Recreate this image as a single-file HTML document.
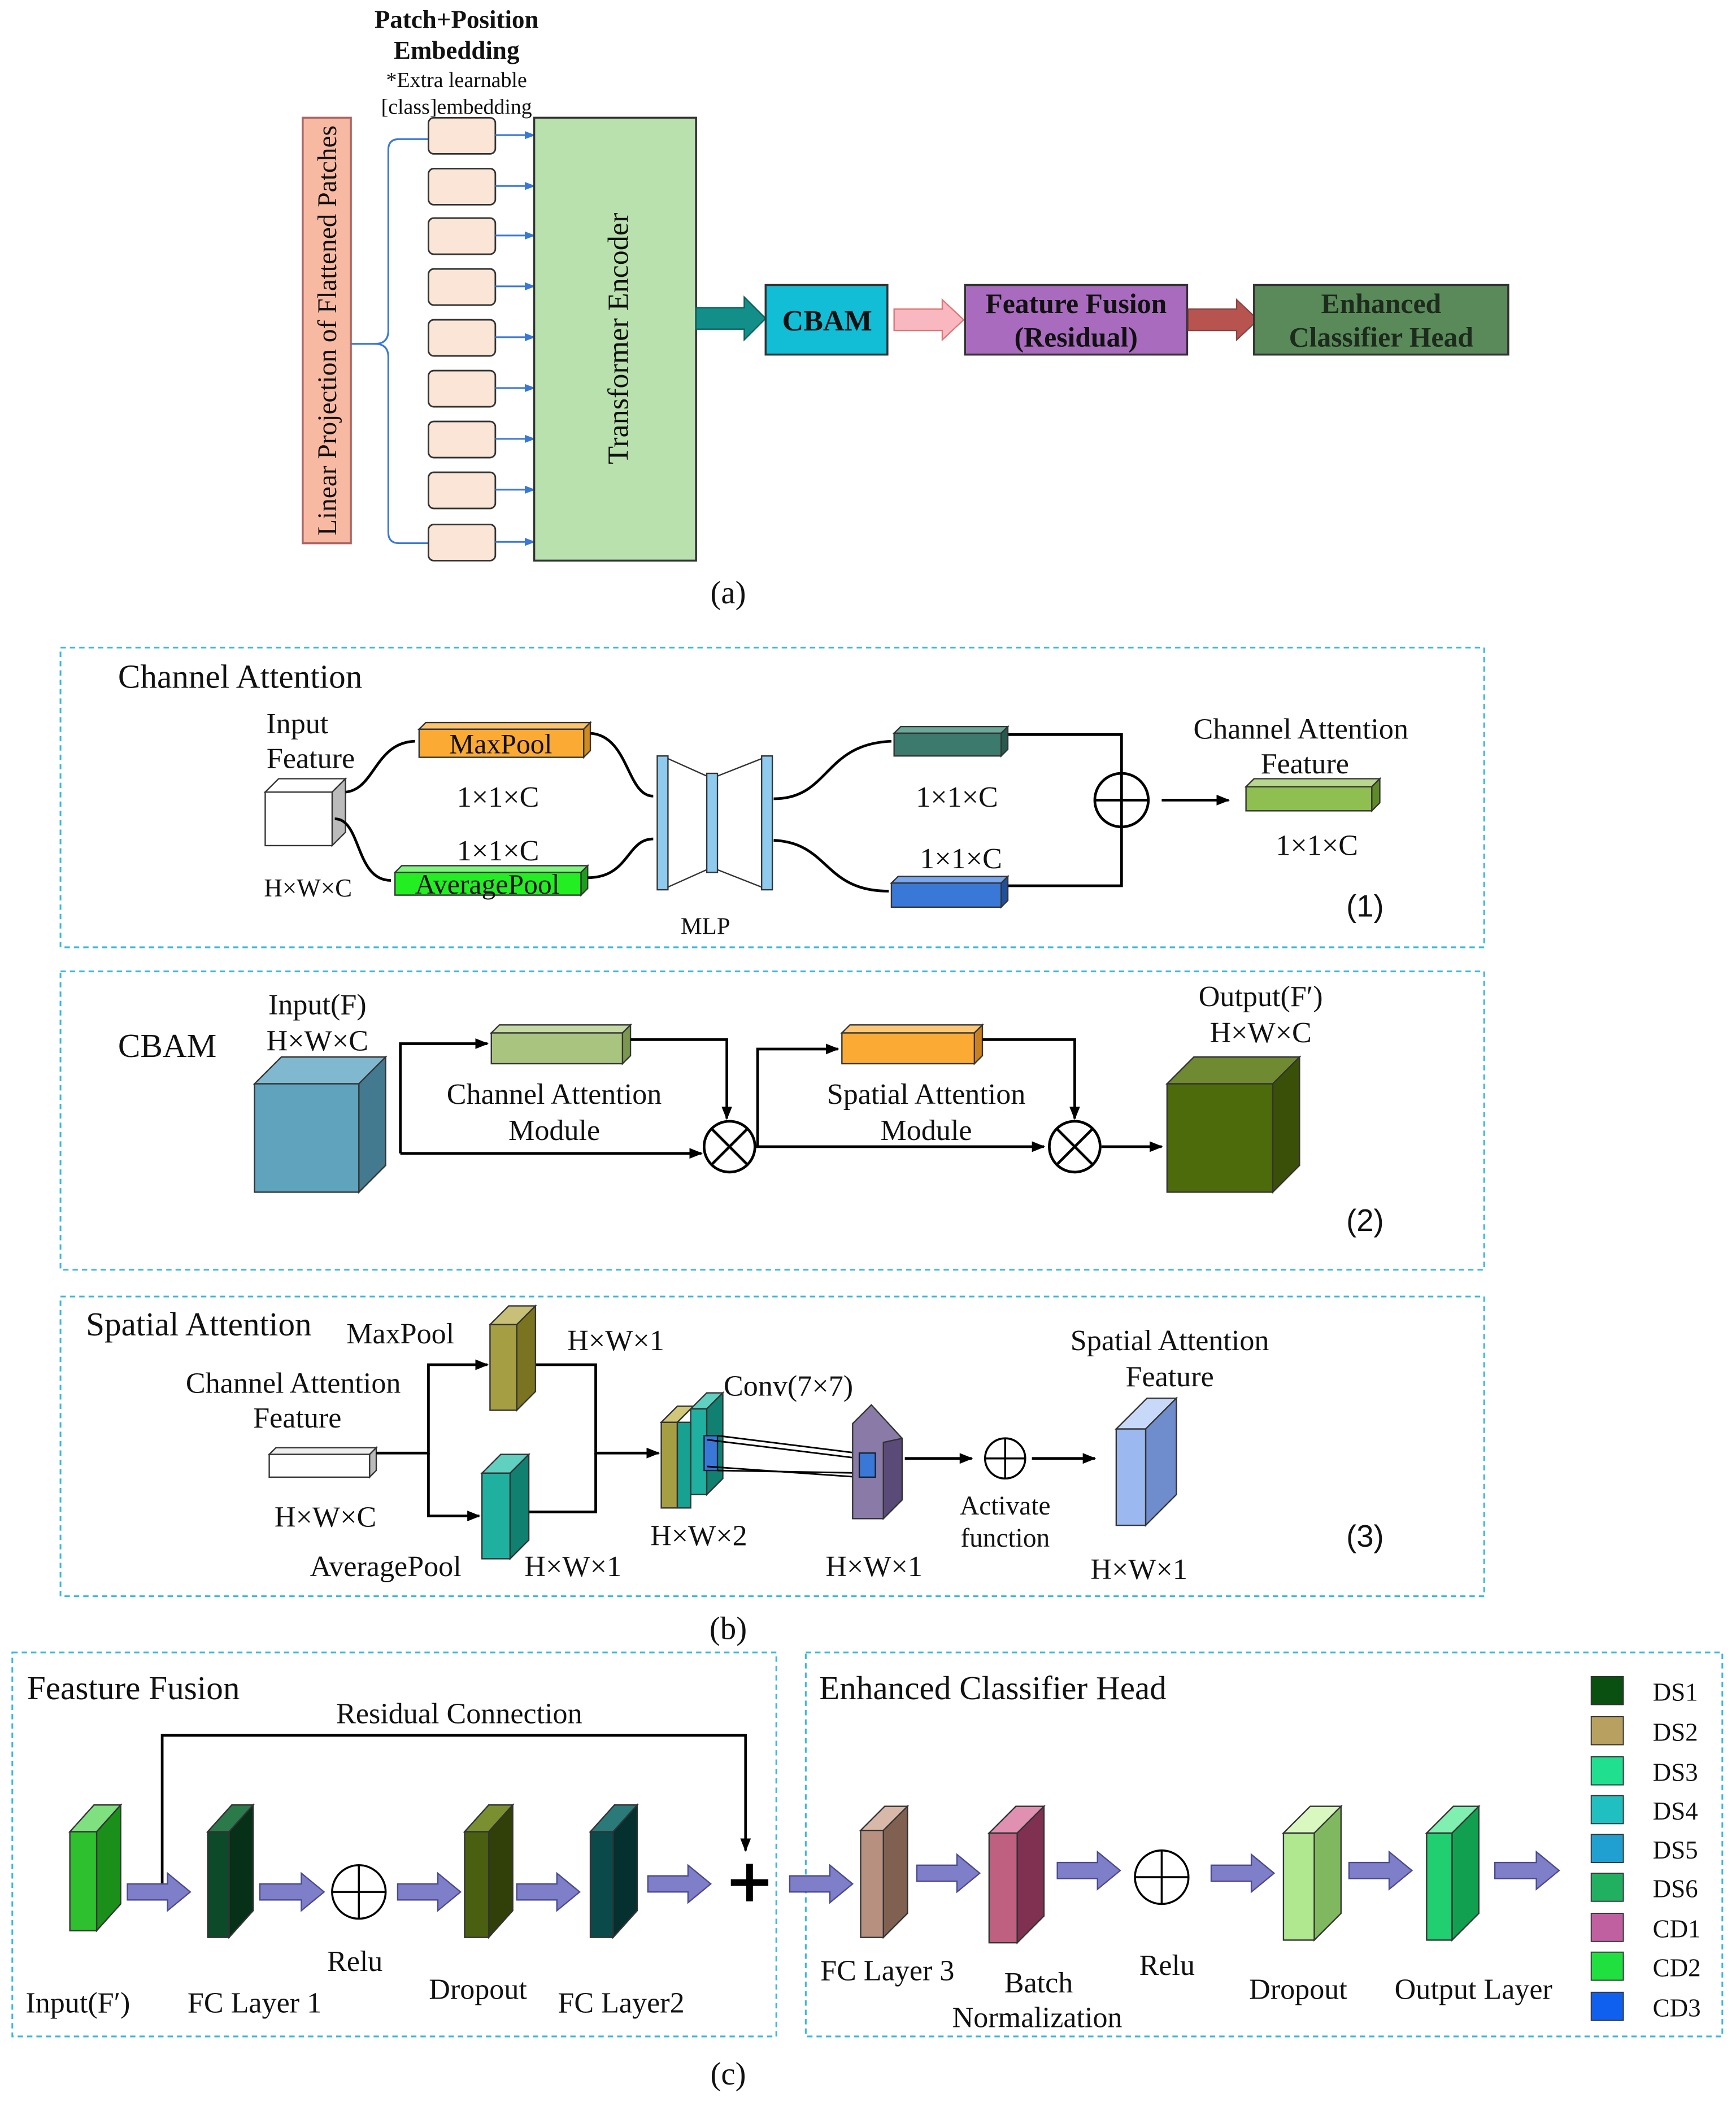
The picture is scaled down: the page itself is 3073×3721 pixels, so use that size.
<!DOCTYPE html>
<html><head><meta charset="utf-8"><style>
html,body{margin:0;padding:0;background:#fff}
svg{display:block}
text{font-family:"Liberation Serif",serif;fill:#111}
</style></head><body>
<svg width="3073" height="3721" viewBox="0 0 1297 1571" xmlns="http://www.w3.org/2000/svg">
<defs>
<marker id="ab" markerWidth="8" markerHeight="8" refX="7" refY="4" orient="auto" markerUnits="userSpaceOnUse"><path d="M0,1 L8,4 L0,7 z" fill="#3a78d8"/></marker>
<marker id="ak" markerWidth="10" markerHeight="10" refX="9" refY="5" orient="auto" markerUnits="userSpaceOnUse"><path d="M0,1 L10,5 L0,9 z" fill="#000"/></marker>
</defs>
<rect width="1297" height="1571" fill="#fff"/>

<!-- (a) -->
<g text-anchor="middle">
<text x="341" y="21" font-size="19" font-weight="bold">Patch+Position</text>
<text x="341" y="44" font-size="19" font-weight="bold">Embedding</text>
<text x="341" y="65" font-size="16">*Extra learnable</text>
<text x="341" y="85" font-size="16">[class]embedding</text>
</g>
<rect x="226" y="88" width="36" height="318" fill="#f8b9a3" stroke="#a66" stroke-width="1.5"/>
<text transform="translate(251,247) rotate(-90)" text-anchor="middle" font-size="20">Linear Projection of Flattened Patches</text>
<g fill="none" stroke="#3a78d8" stroke-width="1.3">
<path d="M262,257 L280,257 Q290,257 290,247 L290,112 Q290,104 298,104 L320,104"/>
<path d="M280,257 Q290,257 290,267 L290,398 Q290,406 298,406 L320,406"/>
</g>
<g fill="#fbe5d6" stroke="#333" stroke-width="1.2">
<rect x="320" y="88" width="50" height="27" rx="4"/>
<rect x="320" y="126" width="50" height="27" rx="4"/>
<rect x="320" y="163" width="50" height="27" rx="4"/>
<rect x="320" y="201" width="50" height="27" rx="4"/>
<rect x="320" y="239" width="50" height="27" rx="4"/>
<rect x="320" y="277" width="50" height="27" rx="4"/>
<rect x="320" y="315" width="50" height="27" rx="4"/>
<rect x="320" y="353" width="50" height="27" rx="4"/>
<rect x="320" y="392" width="50" height="27" rx="4"/>
</g>
<g stroke="#3a78d8" stroke-width="1.3" marker-end="url(#ab)">
<line x1="370" y1="101" x2="399" y2="101"/><line x1="370" y1="139" x2="399" y2="139"/>
<line x1="370" y1="176" x2="399" y2="176"/><line x1="370" y1="214" x2="399" y2="214"/>
<line x1="370" y1="252" x2="399" y2="252"/><line x1="370" y1="290" x2="399" y2="290"/>
<line x1="370" y1="328" x2="399" y2="328"/><line x1="370" y1="366" x2="399" y2="366"/>
<line x1="370" y1="405" x2="399" y2="405"/>
</g>
<rect x="399" y="88" width="121" height="331" fill="#b9e1ae" stroke="#333" stroke-width="1.5"/>
<text transform="translate(469,253) rotate(-90)" text-anchor="middle" font-size="22">Transformer Encoder</text>
<polygon points="520,230 556,230 556,222 572,238 556,254 556,246 520,246" fill="#138f8a" stroke="#0b5f5c"/>
<rect x="572" y="213" width="91" height="52" fill="#12bdd6" stroke="#333" stroke-width="1.5"/>
<text x="618" y="247" text-anchor="middle" font-size="22" font-weight="bold">CBAM</text>
<polygon points="668,231 704,231 704,224 720,239 704,254 704,247 668,247" fill="#f9b7bf" stroke="#d77"/>
<rect x="721" y="213" width="166" height="52" fill="#a86bbd" stroke="#333" stroke-width="1.5"/>
<text x="804" y="234" text-anchor="middle" font-size="21" font-weight="bold">Feature Fusion</text>
<text x="804" y="259" text-anchor="middle" font-size="21" font-weight="bold">(Residual)</text>
<polygon points="888,231 924,231 924,224 940,239 924,254 924,247 888,247" fill="#b85450" stroke="#844"/>
<rect x="937" y="213" width="190" height="52" fill="#5b8a5a" stroke="#333" stroke-width="1.5"/>
<text x="1032" y="234" text-anchor="middle" font-size="21" font-weight="bold" style="fill:#1d2b1d">Enhanced</text>
<text x="1032" y="259" text-anchor="middle" font-size="21" font-weight="bold" style="fill:#1d2b1d">Classifier Head</text>
<text x="544" y="451" text-anchor="middle" font-size="24">(a)</text>

<!-- (b) dashed boxes -->
<g fill="none" stroke="#3bb9d9" stroke-width="1.3" stroke-dasharray="4,3">
<rect x="45" y="484" width="1064" height="224"/>
<rect x="45" y="726" width="1064" height="223"/>
<rect x="45" y="969" width="1064" height="224"/>
<rect x="9" y="1235" width="571" height="287"/>
<rect x="602" y="1235" width="685" height="287"/>
</g>

<!-- (1) -->
<text x="88" y="514" font-size="25">Channel Attention</text>
<g text-anchor="middle" font-size="22">
<text x="222" y="548">Input</text><text x="232" y="574">Feature</text>
<text x="230" y="670" font-size="19">H×W×C</text>
<text x="372" y="603">1×1×C</text><text x="372" y="643">1×1×C</text>
<text x="527" y="698" font-size="18">MLP</text>
<text x="715" y="603">1×1×C</text><text x="718" y="649">1×1×C</text>
<text x="972" y="552">Channel Attention</text><text x="975" y="578">Feature</text>
<text x="984" y="639">1×1×C</text>
<text x="1020" y="685" font-size="23" style="font-family:'Liberation Sans',sans-serif">(1)</text>
</g>
<polygon points="198,592 208,582 258,582 248,592" fill="#fff" stroke="#333"/>
<polygon points="248,592 258,582 258,622 248,632" fill="#bbb" stroke="#333"/>
<rect x="198" y="592" width="50" height="40" fill="#fff" stroke="#333"/>
<polygon points="313,545 318,540 441,540 436,545" fill="#fcc46e" stroke="#333"/>
<polygon points="436,545 441,540 441,561 436,566" fill="#d08a20" stroke="#333"/>
<rect x="313" y="545" width="123" height="21" fill="#fbab33" stroke="#333"/>
<text x="374" y="563" text-anchor="middle" font-size="21">MaxPool</text>
<polygon points="295,652 300,647 439,647 434,652" fill="#80f580" stroke="#333"/>
<polygon points="434,652 439,647 439,664 434,669" fill="#18a018" stroke="#333"/>
<rect x="295" y="652" width="139" height="17" fill="#22ee22" stroke="#333"/>
<text x="364" y="668" text-anchor="middle" font-size="21">AveragePool</text>
<g fill="none" stroke="#000" stroke-width="2">
<path d="M258,592 C280,590 280,555 310,554"/>
<path d="M250,612 C270,612 265,658 292,658"/>
<path d="M441,548 C470,550 468,595 488,595"/>
<path d="M439,656 C470,656 468,627 488,627"/>
<path d="M578,597 C620,597 615,556 666,554"/>
<path d="M578,628 C620,630 615,666 664,666"/>
<path d="M752,549 L838,549 L838,578"/>
<path d="M752,662 L838,662 L838,618"/>
<line x1="868" y1="598" x2="918" y2="598" marker-end="url(#ak)"/>
</g>
<g stroke="#333" stroke-width="1">
<line x1="499" y1="567" x2="528" y2="580"/><line x1="499" y1="663" x2="528" y2="650"/>
<line x1="536" y1="580" x2="569" y2="567"/><line x1="536" y1="650" x2="569" y2="663"/>
<rect x="491" y="565" width="8" height="100" fill="#8ecbef"/>
<rect x="528" y="578" width="8" height="74" fill="#8ecbef"/>
<rect x="569" y="565" width="8" height="100" fill="#8ecbef"/>
</g>
<polygon points="668,548 673,543 753,543 748,548" fill="#6aa898" stroke="#333"/>
<polygon points="748,548 753,543 753,560 748,565" fill="#245a50" stroke="#333"/>
<rect x="668" y="548" width="80" height="17" fill="#3c7a6e" stroke="#333"/>
<polygon points="666,660 671,655 753,655 748,660" fill="#7aa8f0" stroke="#333"/>
<polygon points="748,660 753,655 753,673 748,678" fill="#1f50a0" stroke="#333"/>
<rect x="666" y="660" width="82" height="18" fill="#3a78d8" stroke="#333"/>
<circle cx="838" cy="598" r="20" fill="#fff" stroke="#000" stroke-width="2"/>
<line x1="818" y1="598" x2="858" y2="598" stroke="#000" stroke-width="2"/>
<line x1="838" y1="578" x2="838" y2="618" stroke="#000" stroke-width="2"/>
<polygon points="931,588 937,582 1031,582 1025,588" fill="#b8d890" stroke="#333"/>
<polygon points="1025,588 1031,582 1031,600 1025,606" fill="#5f8a28" stroke="#333"/>
<rect x="931" y="588" width="94" height="18" fill="#8fbf50" stroke="#333"/>

<!-- (2) -->
<text x="88" y="790" font-size="25">CBAM</text>
<g text-anchor="middle" font-size="22">
<text x="237" y="758">Input(F)</text><text x="237" y="785">H×W×C</text>
<text x="414" y="825">Channel Attention</text><text x="414" y="852">Module</text>
<text x="692" y="825">Spatial Attention</text><text x="692" y="852">Module</text>
<text x="942" y="752">Output(F′)</text><text x="942" y="779">H×W×C</text>
<text x="1020" y="920" font-size="23" style="font-family:'Liberation Sans',sans-serif">(2)</text>
</g>
<polygon points="190,810 210,790 288,790 268,810" fill="#7fb8cf" stroke="#333"/>
<polygon points="268,810 288,790 288,871 268,891" fill="#437a90" stroke="#333"/>
<rect x="190" y="810" width="78" height="81" fill="#5fa3bd" stroke="#333"/>
<polygon points="367,772 373,766 471,766 465,772" fill="#c5d9a5" stroke="#333"/>
<polygon points="465,772 471,766 471,789 465,795" fill="#7a9650" stroke="#333"/>
<rect x="367" y="772" width="98" height="23" fill="#a9c47f" stroke="#333"/>
<polygon points="629,772 635,766 734,766 728,772" fill="#fcc878" stroke="#333"/>
<polygon points="728,772 734,766 734,789 728,795" fill="#c88020" stroke="#333"/>
<rect x="629" y="772" width="99" height="23" fill="#fbab33" stroke="#333"/>
<polygon points="872,810 892,790 971,790 951,810" fill="#6f8a30" stroke="#333"/>
<polygon points="951,810 971,790 971,871 951,891" fill="#3a5008" stroke="#333"/>
<rect x="872" y="810" width="79" height="81" fill="#4d6b0b" stroke="#333"/>
<g fill="none" stroke="#000" stroke-width="2">
<path d="M299,862 L524,862" marker-end="url(#ak)"/>
<path d="M299,862 L299,780 L364,780" marker-end="url(#ak)"/>
<path d="M471,777 L543,777 L543,836" marker-end="url(#ak)"/>
<path d="M564,857 L780,857" marker-end="url(#ak)"/>
<path d="M566,857 L566,784 L626,784" marker-end="url(#ak)"/>
<path d="M734,777 L803,777 L803,836" marker-end="url(#ak)"/>
<path d="M823,857 L868,857" marker-end="url(#ak)"/>
</g>
<g stroke="#000" stroke-width="2" fill="#fff">
<circle cx="545" cy="857" r="19"/><circle cx="803" cy="857" r="19"/>
<line x1="532" y1="844" x2="558" y2="870"/><line x1="558" y1="844" x2="532" y2="870"/>
<line x1="790" y1="844" x2="816" y2="870"/><line x1="816" y1="844" x2="790" y2="870"/>
</g>

<!-- (3) -->
<text x="64" y="998" font-size="25">Spatial Attention</text>
<g text-anchor="middle" font-size="22">
<text x="299" y="1004">MaxPool</text>
<text x="219" y="1041">Channel Attention</text><text x="222" y="1067">Feature</text>
<text x="243" y="1141">H×W×C</text>
<text x="460" y="1009">H×W×1</text>
<text x="288" y="1178">AveragePool</text><text x="428" y="1178">H×W×1</text>
<text x="589" y="1043">Conv(7×7)</text>
<text x="522" y="1155">H×W×2</text><text x="653" y="1178">H×W×1</text>
<text x="751" y="1132" font-size="20">Activate</text><text x="751" y="1156" font-size="20">function</text>
<text x="874" y="1009">Spatial Attention</text><text x="874" y="1036">Feature</text>
<text x="851" y="1180">H×W×1</text>
<text x="1020" y="1156" font-size="23" style="font-family:'Liberation Sans',sans-serif">(3)</text>
</g>
<polygon points="201,1087 206,1082 281,1082 276,1087" fill="#eee" stroke="#333"/>
<polygon points="276,1087 281,1082 281,1099 276,1104" fill="#bbb" stroke="#333"/>
<rect x="201" y="1087" width="75" height="17" fill="#fff" stroke="#333"/>
<g fill="none" stroke="#000" stroke-width="2">
<path d="M281,1086 L320,1086 L320,1020 L364,1020" marker-end="url(#ak)"/>
<path d="M320,1086 L320,1133 L358,1133" marker-end="url(#ak)"/>
<path d="M400,1020 L445,1020 L445,1086 L492,1086" marker-end="url(#ak)"/>
<path d="M395,1130 L445,1130 L445,1086"/>
<path d="M676,1090 L726,1090" marker-end="url(#ak)"/>
<path d="M771,1090 L818,1090" marker-end="url(#ak)"/>
</g>
<polygon points="366,990 380,976 400,976 386,990" fill="#c8c078" stroke="#333"/>
<polygon points="386,990 400,976 400,1040 386,1054" fill="#7a7420" stroke="#333"/>
<rect x="366" y="990" width="20" height="64" fill="#a59e43" stroke="#333"/>
<polygon points="360,1101 374,1087 395,1087 381,1101" fill="#60d0c0" stroke="#333"/>
<polygon points="381,1101 395,1087 395,1151 381,1165" fill="#108070" stroke="#333"/>
<rect x="360" y="1101" width="21" height="64" fill="#20b0a0" stroke="#333"/>
<polygon points="494,1063 506,1051 518,1051 506,1063" fill="#d0c878" stroke="#333"/>
<rect x="494" y="1063" width="12" height="64" fill="#a59e43" stroke="#333"/>
<polygon points="506,1063 518,1051 528,1041 516,1053" fill="#50c8b8" stroke="#333"/>
<polygon points="516,1053 528,1041 540,1041 528,1053" fill="#60d0c0" stroke="#333"/>
<rect x="516" y="1053" width="12" height="64" fill="#20b0a0" stroke="#333"/>
<polygon points="528,1053 540,1041 540,1105 528,1117" fill="#108070" stroke="#333"/>
<rect x="506" y="1063" width="10" height="64" fill="#18a090" stroke="#333"/>
<rect x="526" y="1073" width="10" height="26" fill="#3a78d8" stroke="#123"/>
<g stroke="#000" stroke-width="1.2">
<line x1="536" y1="1073" x2="648" y2="1087"/><line x1="536" y1="1099" x2="648" y2="1101"/>
<line x1="528" y1="1076" x2="642" y2="1090"/><line x1="528" y1="1096" x2="642" y2="1104"/>
</g>
<polygon points="637,1064 651,1050 674,1075 674,1121 660,1135 637,1135" fill="#8a7aa8" stroke="#333"/>
<polygon points="660,1078 674,1075 674,1121 660,1135" fill="#5a4a78" stroke="#333"/>
<rect x="642" y="1086" width="12" height="18" fill="#3a78d8" stroke="#123"/>
<circle cx="751" cy="1090" r="15" fill="#fff" stroke="#000" stroke-width="1.5"/>
<line x1="736" y1="1090" x2="766" y2="1090" stroke="#000" stroke-width="1.5"/>
<line x1="751" y1="1075" x2="751" y2="1105" stroke="#000" stroke-width="1.5"/>
<polygon points="834,1068 857,1045 879,1045 856,1068" fill="#c8d8f8" stroke="#333"/>
<polygon points="856,1068 879,1045 879,1117 856,1140" fill="#6f8ccc" stroke="#333"/>
<rect x="834" y="1068" width="22" height="72" fill="#9bb8f0" stroke="#333"/>
<text x="544" y="1225" text-anchor="middle" font-size="24">(b)</text>

<!-- (c) left -->
<text x="20" y="1270" font-size="25">Feasture Fusion</text>
<text x="343" y="1288" text-anchor="middle" font-size="22">Residual Connection</text>
<path d="M121,1410 L121,1297 L557,1297 L557,1383" fill="none" stroke="#000" stroke-width="2" marker-end="url(#ak)"/>
<g stroke="#333" stroke-width="1">
<polygon points="52,1369 70,1349 90,1349 72,1369" fill="#7ee07e"/><polygon points="72,1369 90,1349 90,1423 72,1443" fill="#1a901a"/><rect x="52" y="1369" width="20" height="74" fill="#2fc02f"/>
<polygon points="155,1369 173,1349 189,1349 171,1369" fill="#2a7a4a"/><polygon points="171,1369 189,1349 189,1428 171,1448" fill="#063018"/><rect x="155" y="1369" width="16" height="79" fill="#0c4a2a"/>
<polygon points="347,1369 365,1349 383,1349 365,1369" fill="#7a9030"/><polygon points="365,1369 383,1349 383,1428 365,1448" fill="#304008"/><rect x="347" y="1369" width="18" height="79" fill="#4a6010"/>
<polygon points="441,1369 459,1349 476,1349 458,1369" fill="#2a7a7a"/><polygon points="458,1369 476,1349 476,1428 458,1448" fill="#053030"/><rect x="441" y="1369" width="17" height="79" fill="#0b4a4a"/>
</g>
<g fill="#7e7fc8" stroke="#4a4a90" stroke-width="1">
<polygon points="95,1408 125,1408 125,1400 142,1414 125,1428 125,1420 95,1420"/>
<polygon points="194,1408 225,1408 225,1400 242,1414 225,1428 225,1420 194,1420"/>
<polygon points="297,1408 327,1408 327,1400 344,1414 327,1428 327,1420 297,1420"/>
<polygon points="386,1408 416,1408 416,1400 433,1414 416,1428 416,1420 386,1420"/>
<polygon points="484,1402 514,1402 514,1394 531,1408 514,1422 514,1414 484,1414"/>
<polygon points="590,1402 620,1402 620,1394 637,1408 620,1422 620,1414 590,1414"/>
<polygon points="685,1394 715,1394 715,1386 732,1400 715,1414 715,1406 685,1406"/>
<polygon points="790,1392 820,1392 820,1384 837,1398 820,1412 820,1404 790,1404"/>
<polygon points="905,1394 935,1394 935,1386 952,1400 935,1414 935,1406 905,1406"/>
<polygon points="1008,1392 1038,1392 1038,1384 1055,1398 1038,1412 1038,1404 1008,1404"/>
<polygon points="1117,1392 1148,1392 1148,1384 1165,1398 1148,1412 1148,1404 1117,1404"/>
</g>
<circle cx="268" cy="1414" r="20" fill="#fff" stroke="#000" stroke-width="1.5"/>
<line x1="248" y1="1414" x2="288" y2="1414" stroke="#000" stroke-width="1.5"/><line x1="268" y1="1394" x2="268" y2="1434" stroke="#000" stroke-width="1.5"/>
<line x1="546" y1="1407" x2="574" y2="1407" stroke="#000" stroke-width="5"/><line x1="560" y1="1393" x2="560" y2="1421" stroke="#000" stroke-width="5"/>
<g text-anchor="middle" font-size="22">
<text x="58" y="1504">Input(F′)</text><text x="190" y="1504">FC Layer 1</text>
<text x="265" y="1473">Relu</text><text x="357" y="1494">Dropout</text><text x="464" y="1504">FC Layer2</text>
</g>

<!-- (c) right -->
<text x="612" y="1270" font-size="25">Enhanced Classifier Head</text>
<g stroke="#333" stroke-width="1">
<polygon points="643,1368 661,1350 678,1350 660,1368" fill="#d8b8a8"/><polygon points="660,1368 678,1350 678,1430 660,1448" fill="#806050"/><rect x="643" y="1368" width="17" height="80" fill="#b89080"/>
<polygon points="739,1370 759,1350 780,1350 760,1370" fill="#e090b0"/><polygon points="760,1370 780,1350 780,1432 760,1452" fill="#803050"/><rect x="739" y="1370" width="21" height="82" fill="#c06080"/>
<polygon points="959,1370 979,1350 1002,1350 982,1370" fill="#d8f8c0"/><polygon points="982,1370 1002,1350 1002,1430 982,1450" fill="#80b860"/><rect x="959" y="1370" width="23" height="80" fill="#b0e890"/>
<polygon points="1066,1370 1086,1350 1105,1350 1085,1370" fill="#80f0b0"/><polygon points="1085,1370 1105,1350 1105,1430 1085,1450" fill="#10a050"/><rect x="1066" y="1370" width="19" height="80" fill="#20d070"/>
</g>
<circle cx="868" cy="1403" r="20" fill="#fff" stroke="#000" stroke-width="1.5"/>
<line x1="848" y1="1403" x2="888" y2="1403" stroke="#000" stroke-width="1.5"/><line x1="868" y1="1383" x2="868" y2="1423" stroke="#000" stroke-width="1.5"/>
<g text-anchor="middle" font-size="22">
<text x="663" y="1480">FC Layer 3</text><text x="776" y="1489">Batch</text><text x="775" y="1515">Normalization</text>
<text x="872" y="1476">Relu</text><text x="970" y="1494">Dropout</text><text x="1101" y="1494">Output Layer</text>
</g>
<g stroke="#333" stroke-width="0.8">
<rect x="1189" y="1253" width="24" height="21" fill="#0a5010"/>
<rect x="1189" y="1283" width="24" height="21" fill="#b8a060"/>
<rect x="1189" y="1313" width="24" height="21" fill="#20e090"/>
<rect x="1189" y="1342" width="24" height="21" fill="#20c0c0"/>
<rect x="1189" y="1371" width="24" height="21" fill="#20a0d0"/>
<rect x="1189" y="1400" width="24" height="21" fill="#20b060"/>
<rect x="1189" y="1430" width="24" height="21" fill="#c060a0"/>
<rect x="1189" y="1459" width="24" height="21" fill="#20e040"/>
<rect x="1189" y="1489" width="24" height="21" fill="#1060f0"/>
</g>
<g font-size="19">
<text x="1235" y="1271">DS1</text><text x="1235" y="1301">DS2</text><text x="1235" y="1331">DS3</text>
<text x="1235" y="1360">DS4</text><text x="1235" y="1389">DS5</text><text x="1235" y="1418">DS6</text>
<text x="1235" y="1448">CD1</text><text x="1235" y="1477">CD2</text><text x="1235" y="1507">CD3</text>
</g>
<text x="544" y="1558" text-anchor="middle" font-size="24">(c)</text>
</svg>
</body></html>
